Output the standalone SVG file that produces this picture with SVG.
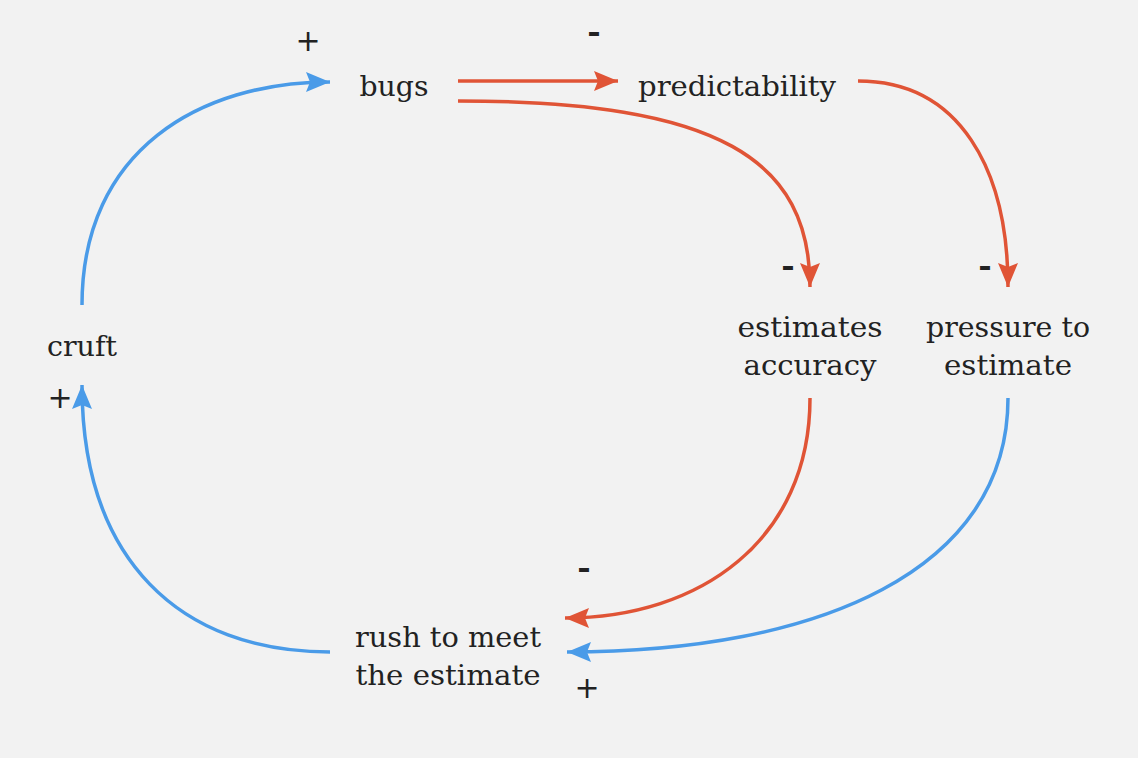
<svg xmlns="http://www.w3.org/2000/svg" width="1138" height="758" viewBox="0 0 1138 758">
<style>
.lbl{font-family:"DejaVu Serif","Liberation Serif",serif;font-size:28px;fill:#222;text-anchor:middle}
.pl{font-family:"DejaVu Sans","Roboto",sans-serif;font-size:30px;fill:#222;text-anchor:middle}
.mn{font-family:"Roboto","DejaVu Sans",sans-serif;font-size:36px;fill:#222;text-anchor:middle;font-weight:bold}
.b{fill:none;stroke:#4a9be8;stroke-width:3.5}
.r{fill:none;stroke:#e05436;stroke-width:3.5}
</style>
<defs>
<marker id="ab" markerUnits="userSpaceOnUse" markerWidth="26" markerHeight="24" refX="24" refY="12" orient="auto"><path d="M0,2 L24,12 L0,22 L4,12 Z" fill="#4a9be8"/></marker>
<marker id="ar" markerUnits="userSpaceOnUse" markerWidth="26" markerHeight="24" refX="24" refY="12" orient="auto"><path d="M0,2 L24,12 L0,22 L4,12 Z" fill="#e05436"/></marker>
</defs>
<rect width="1138" height="758" fill="#f2f2f2"/>
<g id="connectors">
<path class="b" d="M82,305 C82,150 200,82 330,82" marker-end="url(#ab)"/>
<path class="r" d="M458,81 L618,81" marker-end="url(#ar)"/>
<path class="r" d="M458,101 C720,101 810,160 810,287" marker-end="url(#ar)"/>
<path class="r" d="M858,81 C960,81 1008,170 1008,287" marker-end="url(#ar)"/>
<path class="r" d="M810,398 C810,540 700,618 565,618" marker-end="url(#ar)"/>
<path class="b" d="M1008,398 C1008,570 820,652 567,652" marker-end="url(#ab)"/>
<path class="b" d="M330,652 C180,652 82,560 82,385" marker-end="url(#ab)"/>
</g>
<g id="signs">
<text class="pl" x="308" y="51">+</text>
<text class="mn" x="594" y="45">-</text>
<text class="mn" x="788" y="279">-</text>
<text class="mn" x="985" y="279">-</text>
<text class="pl" x="60" y="408">+</text>
<text class="mn" x="584" y="581">-</text>
<text class="pl" x="587" y="698">+</text>
</g>
<g id="bugs"><text class="lbl" x="394" y="96" textLength="69" lengthAdjust="spacingAndGlyphs">bugs</text></g>
<g id="predictability"><text class="lbl" x="737" y="96" textLength="198" lengthAdjust="spacingAndGlyphs">predictability</text></g>
<g id="cruft"><text class="lbl" x="82" y="356" textLength="70" lengthAdjust="spacingAndGlyphs">cruft</text></g>
<g id="estimates-accuracy"><text class="lbl" x="810" y="337" textLength="145" lengthAdjust="spacingAndGlyphs">estimates</text><text class="lbl" x="810" y="375" textLength="133" lengthAdjust="spacingAndGlyphs">accuracy</text></g>
<g id="pressure-to-estimate"><text class="lbl" x="1008" y="337" textLength="164" lengthAdjust="spacingAndGlyphs">pressure to</text><text class="lbl" x="1008" y="375" textLength="128" lengthAdjust="spacingAndGlyphs">estimate</text></g>
<g id="rush"><text class="lbl" x="448" y="647" textLength="186" lengthAdjust="spacingAndGlyphs">rush to meet</text><text class="lbl" x="448" y="685" textLength="185" lengthAdjust="spacingAndGlyphs">the estimate</text></g>
</svg>
